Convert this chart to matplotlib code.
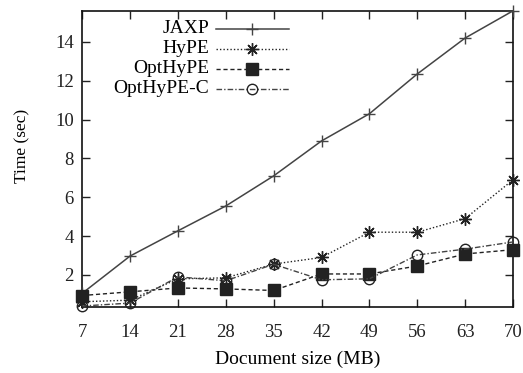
import numpy as np
import matplotlib
matplotlib.use("Agg")
import matplotlib.pyplot as plt
from matplotlib.lines import Line2D

plt.rcParams["font.family"] = ["Liberation Serif", "DejaVu Serif"]

# ── data ──────────────────────────────────────────────────────────────────────
sizes = [7, 14, 21, 28, 35, 42, 49, 56, 63, 70]
jaxp = [1.05, 2.97, 4.27, 5.55, 7.1, 8.9, 10.3, 12.35, 14.2, 15.6]
hype = [0.62, 0.7, 1.8, 1.85, 2.56, 2.9, 4.2, 4.2, 4.9, 6.9]
opthype = [0.94, 1.13, 1.33, 1.28, 1.2, 2.05, 2.05, 2.46, 3.08, 3.3]
opthype_c = [0.4, 0.55, 1.9, 1.7, 2.55, 1.75, 1.8, 3.03, 3.33, 3.7]
labels = ["JAXP", "HyPE", "OptHyPE", "OptHyPE-C"]

INK = "#222222"
styles = [
    dict(color="#444444", ls="-", lw=1.1, marker="+", ms=8, mew=1.0),
    dict(color=INK, ls=(0, (1, 1.5)), lw=1.0, marker=(8, 2, 0), ms=9, mew=1.0),
    dict(color=INK, ls=(0, (3, 2)), lw=1.0, marker="s", ms=8.5, mfc=INK, mec=INK),
    dict(color="#444444", ls=(0, (4, 1.5, 1, 1.5)), lw=1.0, marker="o", ms=7.5,
         mfc="none", mec=INK, mew=1.0),
]

fig = plt.figure(figsize=(5.23, 3.73), dpi=100, facecolor="white")
ax = fig.add_axes([0.157, 0.177, 0.824, 0.794])

for ys, st in zip([jaxp, hype, opthype, opthype_c], styles):
    ax.plot(sizes, ys, clip_on=False, zorder=3, **st)

ax.set_xlim(7, 70)
ax.set_ylim(0.35, 15.6)
ax.set_xticks(sizes)
ax.set_yticks([2, 4, 6, 8, 10, 12, 14])
ax.tick_params(direction="in", length=6, width=1, top=True, right=True,
               labelsize=13.5, colors="#222222")
ax.tick_params(axis="x", pad=12)
ax.tick_params(axis="y", pad=6)
for s in ax.spines.values():
    s.set_linewidth(1.2)
    s.set_color("#111111")

ax.set_xlabel("Document size (MB)", fontsize=14, labelpad=7)
ax.set_ylabel("Time (sec)", fontsize=12.5)
ax.yaxis.set_label_coords(-0.12, 0.545)

# gnuplot-style legend: right-aligned labels, samples to the right
rows_y = [0.939, 0.872, 0.805, 0.737]
for lbl, st, y in zip(labels, styles, rows_y):
    ax.text(0.295, y, lbl, transform=ax.transAxes, ha="right", va="center",
            fontsize=14)
    line_kw = {k: v for k, v in st.items() if k in ("color", "ls", "lw")}
    ax.add_line(Line2D([0.31, 0.48], [y, y], transform=ax.transAxes, **line_kw))
    mk_kw = {k: v for k, v in st.items() if k not in ("ls", "lw")}
    ax.add_line(Line2D([0.395], [y], transform=ax.transAxes, ls="none", **mk_kw))

fig.savefig("out.png", dpi=100)
